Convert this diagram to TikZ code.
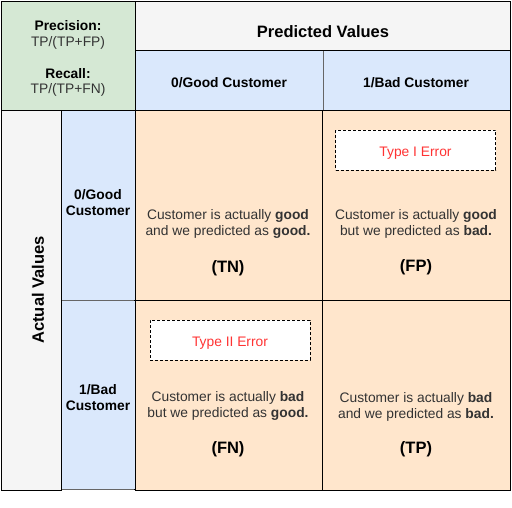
\documentclass[tikz,border=0pt]{standalone}
\usepackage{fontspec}
\setmainfont{Liberation Sans}
\definecolor{hdrgray}{HTML}{F5F5F5}
\definecolor{hdrblue}{HTML}{DAE8FC}
\definecolor{hdrgreen}{HTML}{D5E8D4}
\definecolor{cellorange}{HTML}{FFE6CC}
\definecolor{bodytext}{HTML}{333333}
\definecolor{errred}{HTML}{FF3333}
\definecolor{edgegray}{HTML}{666666}
\begin{document}
\begin{tikzpicture}[x=1pt, y=-1pt,
    cell/.style={align=center, text=bodytext, font=\fontsize{13.8}{16}\selectfont},
    head/.style={align=center, text=black, font=\bfseries\fontsize{13.8}{16}\selectfont},
    title/.style={text=black, font=\bfseries\fontsize{16.5}{20}\selectfont},
    errbox/.style={draw, dash pattern=on 3pt off 2pt, fill=white, minimum width=160pt,
      minimum height=40pt, text height=12pt, text depth=0pt, text=errred,
      font=\fontsize{13.8}{16}\selectfont}]
        \useasboundingbox (0,0) rectangle (512,508);

        % header boxes
        \filldraw [fill=hdrgreen] (1,1) rectangle (135,110);
        \filldraw [fill=hdrgray] (135,1) rectangle (510,50);
        \filldraw [fill=hdrblue] (135,50) rectangle (323,110);
        \filldraw [fill=hdrblue] (323,50) rectangle (510,110);
        \draw [edgegray, thick] (323,51) -- (323,110);

        % left side
        \filldraw [fill=hdrgray] (1,110) rectangle (61,490);
        \filldraw [fill=hdrblue] (61,110) rectangle (135,300);
        \filldraw [fill=hdrblue] (61,300) rectangle (135,489);
        \draw [edgegray, thick] (62,300) -- (134,300);
        \draw [edgegray, thick] (62,489) -- (134,489);

        % matrix cells
        \filldraw [fill=cellorange] (135,110) rectangle (322,300);
        \filldraw [fill=cellorange] (322,110) rectangle (510,300);
        \filldraw [fill=cellorange] (135,300) rectangle (322,490);
        \filldraw [fill=cellorange] (322,300) rectangle (510,490);

        % measures
        \node [head] (prec) at (68,26) {Precision:};
        \node [cell] (precf) at (68,43) {TP/(TP+FP)};
        \node [head] (rec) at (68,74) {Recall:};
        \node [cell] (recf) at (68,90) {TP/(TP+FN)};

        % axis titles
        \node [title] (pred) at (323,32) {Predicted Values};
        \node [title, rotate=90] (act) at (38,290) {Actual Values};

        \node [head] (colgood) at (229,83) {0/Good Customer};
        \node [head] (colbad) at (416,83) {1/Bad Customer};
        \node [head] (rowgood) at (98,203) {0/Good\\Customer};
        \node [head] (rowbad) at (98,398) {1/Bad\\Customer};

        % cell texts
        \node [cell] (tntext) at (228,224)
          {Customer is actually \textbf{good}\\and we predicted as \textbf{good.}};
        \node [title] (tn) at (228,268) {(TN)};

        \node [errbox] (type1) at (415.5,150.5) {Type I Error};
        \node [cell] (fptext) at (416,224)
          {Customer is actually \textbf{good}\\but we predicted as \textbf{bad.}};
        \node [title] (fp) at (416,267) {(FP)};

        \node [errbox] (type2) at (230,340) {Type II Error};
        \node [cell] (fntext) at (228,406)
          {Customer is actually \textbf{bad}\\but we predicted as \textbf{good.}};
        \node [title] (fn) at (228,449) {(FN)};

        \node [cell] (tptext) at (416,407)
          {Customer is actually \textbf{bad}\\and we predicted as \textbf{bad.}};
        \node [title] (tp) at (416,449) {(TP)};
      \end{tikzpicture}
\end{document}
